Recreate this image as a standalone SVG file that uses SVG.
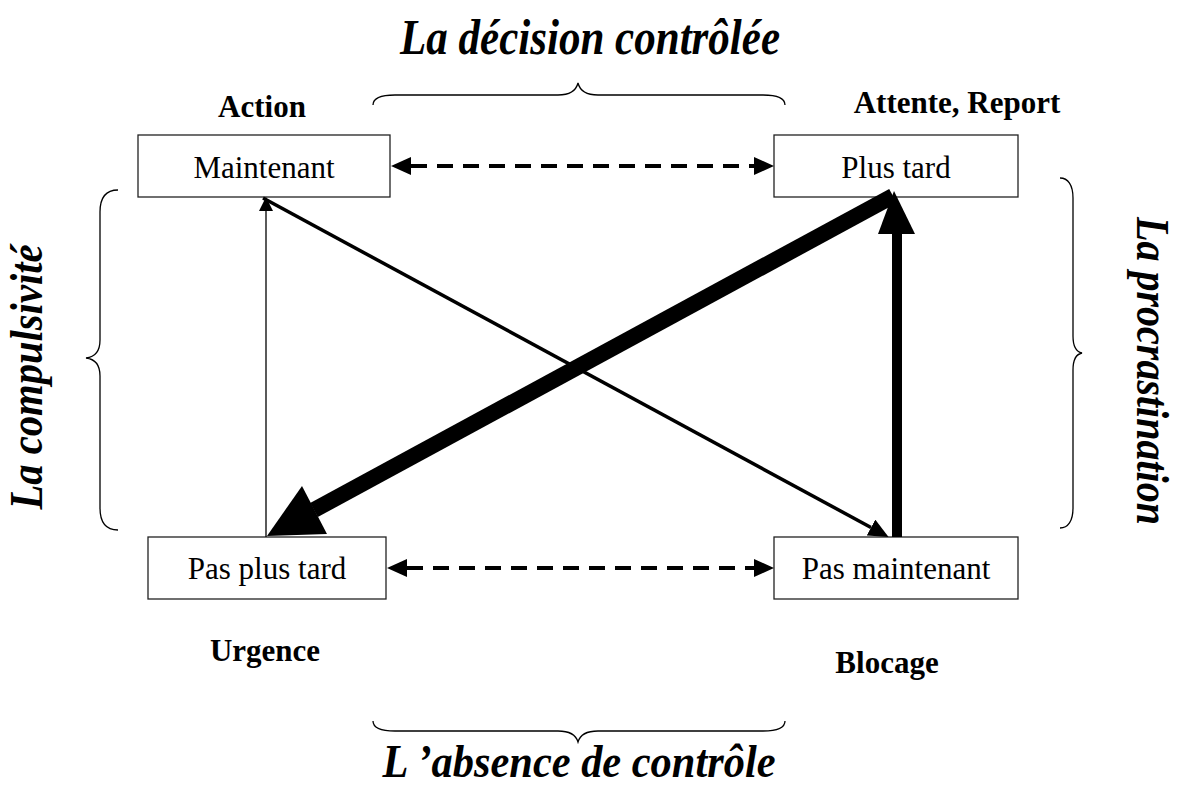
<svg xmlns="http://www.w3.org/2000/svg" width="1179" height="788" viewBox="0 0 1179 788">
<style>
.box{fill:#fff;stroke:#222;stroke-width:1.3}
.bt{font-family:"Liberation Serif","Times New Roman",serif;font-size:31px;text-anchor:middle;fill:#000}
.lb{font-family:"Liberation Serif","Times New Roman",serif;font-size:31px;font-weight:bold;text-anchor:middle;fill:#000}
.ti{font-family:"Liberation Serif","Times New Roman",serif;font-size:50px;font-weight:bold;font-style:italic;text-anchor:middle;fill:#000}
.br{fill:none;stroke:#000;stroke-width:1.3}
.dash{stroke:#000;stroke-width:4;stroke-dasharray:16 10;fill:none}
</style>
<defs>
<marker id="dh" markerUnits="userSpaceOnUse" viewBox="0 -9 20 18" markerWidth="20" markerHeight="18" refX="0" refY="0" orient="auto-start-reverse">
<path d="M0,-9 L20,0 L0,9 z" fill="#000"/>
</marker>
<marker id="mh" markerUnits="userSpaceOnUse" viewBox="0 -9 20 18" markerWidth="20" markerHeight="18" refX="0" refY="0" orient="auto">
<path d="M0,-9 L20,0 L0,9 z" fill="#000"/>
</marker>
</defs>

<g id="titles">
<text class="ti" x="590" y="54" textLength="380" lengthAdjust="spacingAndGlyphs">La décision contrôlée</text>
<text class="ti" style="font-size:46px" x="579" y="777" textLength="393" lengthAdjust="spacingAndGlyphs">L ’absence de contrôle</text>
<text class="ti" style="font-size:46px" transform="translate(42,377) rotate(-90)" x="0" y="0" textLength="265" lengthAdjust="spacingAndGlyphs">La compulsivité</text>
<text class="ti" style="font-size:46px" transform="translate(1137,371) rotate(90)" x="0" y="0" textLength="308" lengthAdjust="spacingAndGlyphs">La procrastination</text>
</g>

<g id="braces">
<path class="br" d="M373,105 C373,98 380,95 395,95 L558,95 C570,95 576,91 578,83 C580,91 586,95 598,95 L763,95 C778,95 785,98 785,105"/>
<path class="br" d="M373,721 C373,728 380,731 395,731 L558,731 C570,731 576,735 578,742 C580,735 586,731 598,731 L763,731 C778,731 785,728 785,721"/>
<path class="br" d="M118,190 C106,190 100,197 100,212 L100,340 C100,351 95,357 86,358 C95,359 100,365 100,376 L100,508 C100,523 106,530 118,530"/>
<path class="br" d="M1060,178 C1068,178 1073,185 1073,198 L1073,336 C1073,347 1077,352 1082,353 C1077,354 1073,359 1073,370 L1073,508 C1073,521 1068,528 1060,528"/>
</g>

<g id="labels">
<text class="lb" x="262" y="117">Action</text>
<text class="lb" x="957" y="113">Attente, Report</text>
<text class="lb" x="265" y="661">Urgence</text>
<text class="lb" x="887" y="673">Blocage</text>
</g>

<g id="node-maintenant">
<rect class="box" x="138" y="135" width="252" height="62"/>
<text class="bt" x="264" y="178">Maintenant</text>
</g>
<g id="node-plus-tard">
<rect class="box" x="774" y="135" width="244" height="62"/>
<text class="bt" x="896" y="178">Plus tard</text>
</g>
<g id="node-pas-plus-tard">
<rect class="box" x="148" y="537" width="238" height="62"/>
<text class="bt" x="267" y="579">Pas plus tard</text>
</g>
<g id="node-pas-maintenant">
<rect class="box" x="774" y="537" width="244" height="62"/>
<text class="bt" x="896" y="579">Pas maintenant</text>
</g>

<g id="connectors">
<line class="dash" x1="411" y1="166" x2="754" y2="166" marker-start="url(#dh)" marker-end="url(#dh)"/>
<line class="dash" x1="407" y1="568" x2="754" y2="568" marker-start="url(#dh)" marker-end="url(#dh)"/>
<line x1="266" y1="537" x2="266" y2="210" stroke="#000" stroke-width="1.3"/>
<polygon points="266,197 259,211 273,211" fill="#000"/>
<line x1="263" y1="198" x2="871" y2="527.5" stroke="#000" stroke-width="3.5" marker-end="url(#mh)"/>
<line x1="897" y1="537" x2="897" y2="230" stroke="#000" stroke-width="10"/>
<polygon points="894,191 878,234 915,234" fill="#000"/>
<line x1="893" y1="196" x2="314" y2="510" stroke="#000" stroke-width="16"/>
<polygon points="267,536 302,486 327,534" fill="#000"/>
</g>
</svg>
